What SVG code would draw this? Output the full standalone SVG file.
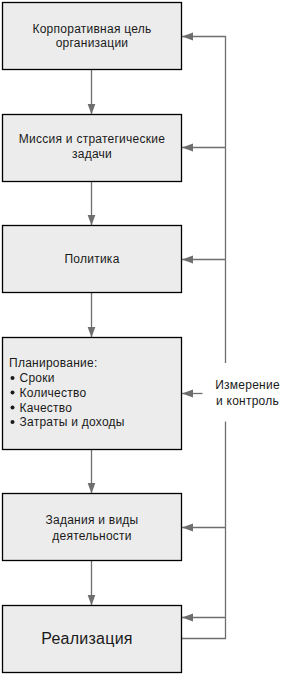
<svg xmlns="http://www.w3.org/2000/svg" width="295" height="674" viewBox="0 0 295 674">
<defs>
<style>
.box{fill:#ececec;stroke:#000;stroke-width:1.3}
.t{font-family:"Liberation Sans",Arial,sans-serif;font-size:12px;fill:#1a1a1a;letter-spacing:0.25px}
.c{text-anchor:middle}
.ln{stroke:#6e6e6e;stroke-width:1.3;fill:none}
.bl{fill:#1a1a1a}
</style>
<marker id="ah" markerUnits="userSpaceOnUse" markerWidth="12" markerHeight="9" refX="11" refY="4" orient="auto">
<path d="M0,0 L11,4 L0,8 z" fill="#6e6e6e"/>
</marker>
</defs>
<g id="connectors">
<line class="ln" x1="91.5" y1="69.5" x2="91.5" y2="114.5" marker-end="url(#ah)"/>
<line class="ln" x1="91.5" y1="181.5" x2="91.5" y2="225.5" marker-end="url(#ah)"/>
<line class="ln" x1="91.5" y1="292.5" x2="91.5" y2="337.5" marker-end="url(#ah)"/>
<line class="ln" x1="91.5" y1="449.5" x2="91.5" y2="493.5" marker-end="url(#ah)"/>
<line class="ln" x1="91.5" y1="560.5" x2="91.5" y2="605.5" marker-end="url(#ah)"/>
<polyline class="ln" points="181.5,638.5 225.5,638.5 225.5,421.5"/>
<line class="ln" x1="225.5" y1="363" x2="225.5" y2="36"/>
<line class="ln" x1="225.5" y1="36.5" x2="182" y2="36.5" marker-end="url(#ah)"/>
<line class="ln" x1="225.5" y1="147.5" x2="182" y2="147.5" marker-end="url(#ah)"/>
<line class="ln" x1="225.5" y1="259.5" x2="182" y2="259.5" marker-end="url(#ah)"/>
<line class="ln" x1="202.5" y1="393.5" x2="182" y2="393.5" marker-end="url(#ah)"/>
<line class="ln" x1="225.5" y1="527.5" x2="182" y2="527.5" marker-end="url(#ah)"/>
<line class="ln" x1="225.5" y1="617.5" x2="182" y2="617.5" marker-end="url(#ah)"/>
</g>
<g id="n1">
<rect class="box" x="2.5" y="2.5" width="179" height="67"/>
<text class="t c" x="92" y="32.5">Корпоративная цель</text>
<text class="t c" x="92" y="47">организации</text>
</g>
<g id="n2">
<rect class="box" x="2.5" y="114.5" width="179" height="67"/>
<text class="t c" x="92" y="143">Миссия и стратегические</text>
<text class="t c" x="92" y="158">задачи</text>
</g>
<g id="n3">
<rect class="box" x="2.5" y="225.5" width="179" height="67"/>
<text class="t c" x="92" y="262.5">Политика</text>
</g>
<g id="n4">
<rect class="box" x="2.5" y="337.5" width="179" height="112"/>
<text class="t" x="9" y="366.5">Планирование:</text>
<circle class="bl" cx="12.5" cy="378" r="2"/>
<circle class="bl" cx="12.5" cy="392.5" r="2"/>
<circle class="bl" cx="12.5" cy="407.5" r="2"/>
<circle class="bl" cx="12.5" cy="422" r="2"/>
<text class="t" x="19.5" y="382">Сроки</text>
<text class="t" x="19.5" y="396.5">Количество</text>
<text class="t" x="19.5" y="411.5">Качество</text>
<text class="t" x="19.5" y="426">Затраты и доходы</text>
</g>
<g id="n5">
<rect class="box" x="2.5" y="493.5" width="179" height="67"/>
<text class="t c" x="92" y="524">Задания и виды</text>
<text class="t c" x="92" y="539.5">деятельности</text>
</g>
<g id="n6">
<rect class="box" x="2.5" y="605.5" width="179" height="67"/>
<text class="t c" x="87" y="644" style="font-size:16px">Реализация</text>
</g>
<g id="label">
<text class="t c" x="247.5" y="389">Измерение</text>
<text class="t c" x="247.5" y="405">и контроль</text>
</g>
</svg>
